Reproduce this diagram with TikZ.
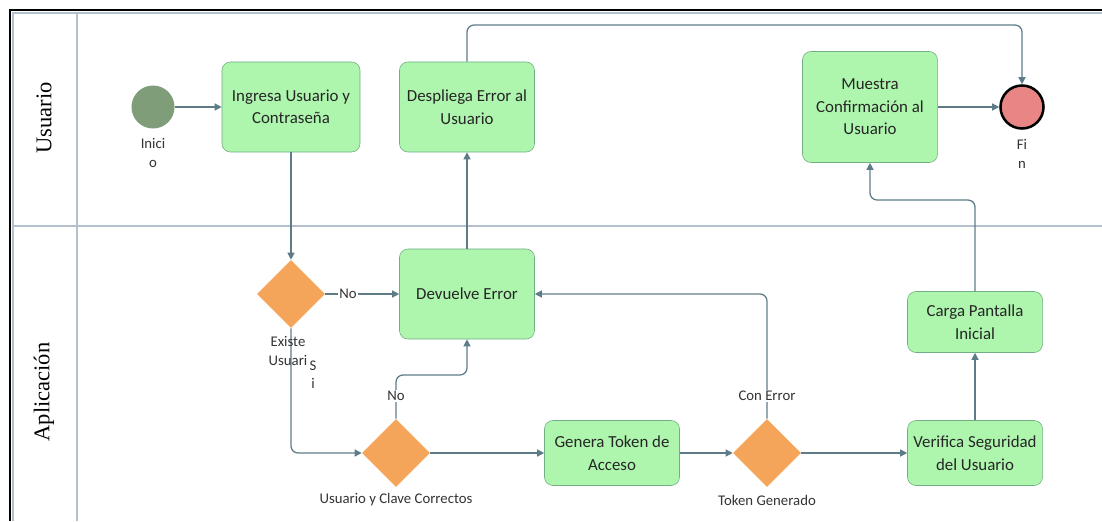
\documentclass[tikz,border=0pt]{standalone}
\usepackage{fontspec}
\setmainfont{Carlito}
\newfontfamily\carrilfont{Liberation Serif}
\usetikzlibrary{shapes.geometric, arrows.meta}

\definecolor{verdecaja}{HTML}{AEF5AE}
\definecolor{verdeborde}{HTML}{72AE84}
\definecolor{naranja}{HTML}{F4A55A}
\definecolor{flecha}{HTML}{5E7C88}
\definecolor{carril}{HTML}{B4C0CC}
\definecolor{verdeinicio}{HTML}{809D7A}
\definecolor{rojofin}{HTML}{E88585}

\begin{document}
\begin{tikzpicture}[x=0.025cm, y=-0.025cm,
    tarea/.style={draw=verdeborde, fill=verdecaja, rounded corners=6pt, align=center,
        minimum width=3.375cm, minimum height=2.25cm, inner sep=2pt,
        font=\fontsize{12}{16}\selectfont, text=black!85},
    decision/.style={diamond, fill=naranja, minimum width=1.7cm, minimum height=1.7cm, inner sep=0pt},
    evento/.style={circle, minimum size=1.075cm, inner sep=0pt},
    etiqueta/.style={align=center, font=\fontsize{10.5}{13}\selectfont, text=black!80, inner sep=1pt},
    flujo/.style={draw=flecha, line width=0.9pt, rounded corners=5pt, -{Triangle[length=5pt, width=5pt]}},
    nombre/.style={rotate=90, font=\carrilfont\fontsize{16}{18}\selectfont}]
    \useasboundingbox (0,0) rectangle (1102,521);

    % carriles
    \draw[line width=2pt] (10,521) -- (10,10) -- (1102,10);
    \draw[carril, line width=0.8pt] (13,521) -- (13,13) -- (1102,13);
    \draw[carril, line width=0.8pt] (77,13) -- (77,521);
    \draw[carril, line width=0.8pt] (13,226) -- (1102,226);
    \node[nombre] (usu) at (44,118) {Usuario};
    \node[nombre] (apl) at (44,392) {Aplicación};

    % nodos
    \node[evento, fill=verdeinicio] (ini) at (153,107) {};
    \node[tarea, minimum width=3.45cm] (ing) at (291,107) {Ingresa Usuario y\\Contraseña};
    \node[tarea] (des) at (467,107) {Despliega Error al\\Usuario};
    \node[tarea, minimum height=2.775cm] (mue) at (870,107) {Muestra\\Confirmación al\\Usuario};
    \node[evento, fill=rojofin, draw=black, line width=1.8pt] (fin) at (1022,107) {};
    \node[tarea] (dev) at (467,294) {Devuelve Error};
    \node[decision] (d1) at (291,294) {};
    \node[decision] (d2) at (396,453) {};
    \node[tarea, minimum height=1.625cm] (gen) at (612,453) {Genera Token de\\Acceso};
    \node[decision] (d3) at (767,453) {};
    \node[tarea, minimum height=1.625cm] (ver) at (975,453) {Verifica Seguridad\\del Usuario};
    \node[tarea, minimum height=1.525cm] (car) at (975,322) {Carga Pantalla\\Inicial};

    \coordinate (arriba) at (744,25);
    \coordinate (quiebre) at (920,200);
    \coordinate (giro) at (430,375);

    % conectores
    \draw[flujo] (ini) -- (ing);
    \draw[flujo] (ing) -- (d1);
    \draw[flujo] (d1) -- (dev);
    \draw[flujo] (d1.south) |- (d2.west);
    \draw[flujo] (d2.north) |- (giro) -| (dev.south);
    \draw[flujo] (d2) -- (gen);
    \draw[flujo] (gen) -- (d3);
    \draw[flujo] (d3) -- (ver);
    \draw[flujo] (d3.north) |- (dev.east);
    \draw[flujo] (dev) -- (des);
    \draw[flujo] (des.north) |- (arriba) -| (fin.north);
    \draw[flujo] (ver) -- (car);
    \draw[flujo] (car.north) |- (quiebre) -| (mue.south);
    \draw[flujo] (mue) -- (fin);

    % etiquetas
    \node[etiqueta] (t-ini) at (153,153) {Inici\\o};
    \node[etiqueta] (t-fin) at (1022,154) {Fi\\n};
    \node[etiqueta, fill=white] (t-no1) at (348,294) {No};
    \node[etiqueta] (t-d1) at (288,351) {Existe\\Usuari};
    \node[etiqueta] (t-si) at (313,375) {S\\i};
    \node[etiqueta, fill=white] (t-no2) at (396,396) {No};
    \node[etiqueta, fill=white] (t-err) at (767,396) {Con Error};
    \node[etiqueta] (t-d2) at (396,500) {Usuario y Clave Correctos};
    \node[etiqueta] (t-d3) at (767,500) {Token Generado};
\end{tikzpicture}
\end{document}
